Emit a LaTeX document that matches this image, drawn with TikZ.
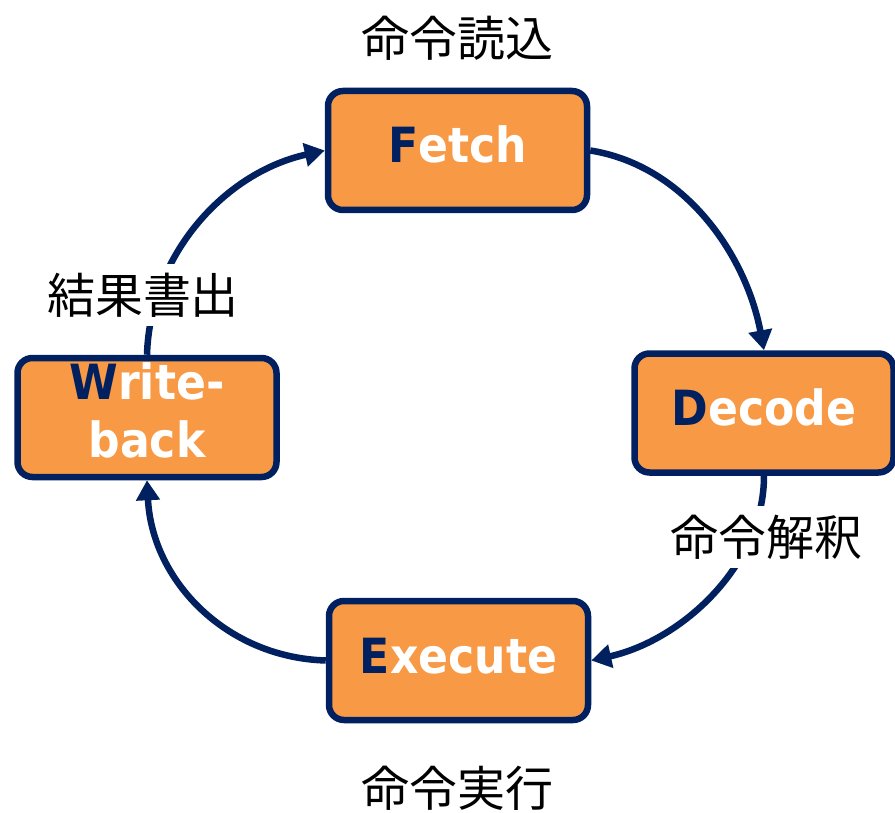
\documentclass[tikz,border=0pt]{standalone}
\usepackage{fontspec}
\newfontfamily\stagefont{DejaVu Sans}[FakeStretch=0.91]
\newfontfamily\jpfont{Noto Sans CJK JP}
\usetikzlibrary{arrows.meta}
\definecolor{navy}{HTML}{002060}
\definecolor{boxorange}{HTML}{F89A45}
\begin{document}
\begin{tikzpicture}[x=1pt,y=-1pt,
  stage/.style={draw=navy, line width=6.5pt, fill=boxorange, rounded corners=15pt,
    minimum width=259pt, minimum height=119pt, inner sep=0pt, text=white,
    font=\stagefont\bfseries\fontsize{48.5}{58}\selectfont, align=center},
  oneline/.style={text height=35pt, text depth=10pt},
  flow/.style={draw=navy, line width=6.5pt, -{Triangle[length=20pt,width=23pt]}},
  steplabel/.style={font=\jpfont\fontsize{48}{48}\selectfont, fill=white, inner sep=9pt}]
\useasboundingbox (0,0) rectangle (895,813);

% the four pipeline stages
\node[stage,oneline] (fetch)   at (457.5,150.5) {{\color{navy}F}etch};
\node[stage,oneline] (decode)  at (764,413)     {{\color{navy}D}ecode};
\node[stage,oneline] (execute) at (458.5,660.5) {{\color{navy}E}xecute};
\node[stage,text depth=14pt] (wb) at (147,417.5) {{\color{navy}W}rite-\\back};

% the cycle between stages
\draw[flow] (fetch.east) .. controls +(95,15) and +(-18,-95) .. (decode.north);
\draw[flow] (decode.south) .. controls +(0,90) and +(90,-20) .. (execute.east);
\draw[flow] (execute.west) .. controls +(-100,-3) and +(5,100) .. (wb.south);
\draw[flow] (wb.north) .. controls +(3,-100) and +(-100,22) .. (fetch.west);

% stage descriptions
\node[steplabel] (lfetch)   at (457,38)  {命令読込};
\node[steplabel] (ldecode)  at (766,537) {命令解釈};
\node[steplabel] (lexecute) at (457,788) {命令実行};
\node[steplabel] (lwb)      at (143,295) {結果書出};
\end{tikzpicture}
\end{document}
